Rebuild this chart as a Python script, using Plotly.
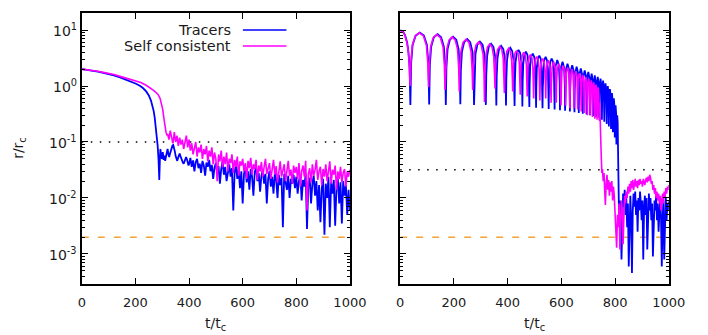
import math
import plotly.graph_objects as go

# ---------------- data ----------------
# Left panel: smooth early decay, then noisy tail (uniform 5-unit sampling)
left_tracers_early = [(0, 2.0), (20, 1.95), (40, 1.88), (60, 1.80), (80, 1.72), (100, 1.64), (120, 1.55),
    (140, 1.44), (160, 1.33), (180, 1.22), (200, 1.11), (215, 1.02), (228, 0.92), (240, 0.80), (250, 0.68),
    (258, 0.55), (264, 0.44), (268, 0.36), (272, 0.27), (276, 0.19), (280, 0.12), (283, 0.085), (286, 0.05),
    (288, 0.03), (289, 0.021), (291, 0.045), (293, 0.075), (296, 0.058), (299, 0.05), (302, 0.066),
    (305, 0.048), (308, 0.057), (311, 0.046), (314, 0.055), (317, 0.065), (320, 0.075), (323, 0.06),
    (326, 0.054), (329, 0.062), (332, 0.07), (335, 0.078), (338, 0.086), (341, 0.088), (344, 0.08),
    (347, 0.068), (350, 0.056), (353, 0.05), (356, 0.046), (359, 0.052), (362, 0.058), (365, 0.062),
    (368, 0.056), (371, 0.05), (374, 0.047), (377, 0.043), (380, 0.041), (383, 0.046), (386, 0.05),
    (389, 0.054), (392, 0.049), (395, 0.043), (398, 0.038)]
left_tracers_tail_start = 400
left_tracers_tail = [
    0.040, 0.052, 0.036, 0.047, 0.030, 0.044, 0.050, 0.034, 0.041, 0.028, 0.046, 0.038, 0.025, 0.043, 0.036, 0.048, 0.030, 0.039, 0.022, 0.035,
    0.042, 0.028, 0.037, 0.018, 0.033, 0.045, 0.026, 0.036, 0.020, 0.031, 0.040, 0.024, 0.034, 0.006, 0.029, 0.038, 0.022, 0.033, 0.015, 0.030,
    0.008, 0.027, 0.036, 0.019, 0.030, 0.014, 0.033, 0.024, 0.011, 0.029, 0.035, 0.020, 0.028, 0.013, 0.025, 0.032, 0.018, 0.027, 0.008, 0.022,
    0.030, 0.016, 0.024, 0.012, 0.028, 0.021, 0.010, 0.026, 0.017, 0.023, 0.003, 0.027, 0.019, 0.014, 0.025, 0.010, 0.022, 0.018, 0.026, 0.015,
    0.024, 0.012, 0.020, 0.026, 0.009, 0.021, 0.016, 0.027, 0.0028, 0.019, 0.023, 0.008, 0.018, 0.025, 0.011, 0.020, 0.006, 0.017, 0.0037, 0.015,
    0.022, 0.0022, 0.018, 0.010, 0.024, 0.003, 0.019, 0.012, 0.021, 0.0032, 0.016, 0.022, 0.008, 0.019, 0.0035, 0.020, 0.011, 0.017, 0.005, 0.014, 0.006]

left_self_early = [(0, 2.0), (20, 1.96), (40, 1.90), (60, 1.83), (80, 1.75), (100, 1.68), (120, 1.60),
    (140, 1.50), (160, 1.40), (180, 1.32), (200, 1.25), (220, 1.15), (240, 1.03), (255, 0.93), (265, 0.85),
    (275, 0.78), (285, 0.70), (292, 0.60), (298, 0.47), (302, 0.38), (306, 0.27), (310, 0.19), (314, 0.15),
    (318, 0.13)]
left_self_tail_start = 320
left_self_tail = [
    0.14, 0.11, 0.16, 0.12, 0.095, 0.15, 0.10, 0.13, 0.085, 0.12, 0.09, 0.11, 0.075, 0.10, 0.13, 0.08,
    0.11, 0.07, 0.095, 0.06, 0.085, 0.10, 0.055, 0.08, 0.065, 0.09, 0.05, 0.075, 0.06, 0.085, 0.045, 0.07, 0.055, 0.08, 0.04, 0.065,
    0.05, 0.02, 0.06, 0.045, 0.07, 0.035, 0.055, 0.04, 0.065, 0.03, 0.05, 0.042, 0.06, 0.028, 0.048, 0.036, 0.055, 0.025, 0.045, 0.038,
    0.05, 0.03, 0.042, 0.022, 0.046, 0.034, 0.052, 0.026, 0.04, 0.033, 0.048, 0.021, 0.038, 0.03, 0.044, 0.024, 0.036, 0.05, 0.027, 0.035,
    0.042, 0.022, 0.034, 0.048, 0.026, 0.037, 0.019, 0.033, 0.045, 0.024, 0.031, 0.04, 0.02, 0.035, 0.046, 0.025, 0.032, 0.018, 0.038, 0.028,
    0.036, 0.022, 0.042, 0.016, 0.03, 0.038, 0.024, 0.046, 0.006, 0.027, 0.034, 0.019, 0.04, 0.025, 0.032, 0.048, 0.021, 0.03, 0.036, 0.017,
    0.033, 0.024, 0.04, 0.02, 0.029, 0.045, 0.018, 0.032, 0.026, 0.038, 0.014, 0.03, 0.022, 0.036, 0.019, 0.028, 0.033, 0.016, 0.03, 0.024, 0.032]

# Right panel: orbital oscillations (t, r)
right_tracers = [(0, 9.9), (10, 9.5), (18, 8.1), (26, 6.0), (31, 4.0), (35, 2.2),
    (38, .46), (40.8, 2.52), (46.4, 5.4), (57.6, 7.92), (73, 9.0), (88.4, 7.92), (99.6, 5.4), (105.2, 2.52),
    (108, .47), (110.5, 2.35), (115.4, 5.04), (125.4, 7.39), (139, 8.4), (152.6, 7.39), (162.6, 5.04), (167.5, 2.35),
    (170, .46), (172.2, 2.13), (176.5, 4.56), (185.1, 6.69), (197, 7.6), (208.9, 6.69), (217.5, 4.56), (221.8, 2.13),
    (224, .47), (226, 1.93), (230.1, 4.14), (238.3, 6.07), (249.5, 6.9), (260.7, 6.07), (268.9, 4.14), (273, 1.93),
    (275, .46), (276.8, 1.74), (280.3, 3.72), (287.3, 5.46), (297, 6.2), (306.7, 5.46), (313.7, 3.72), (317.2, 1.74),
    (319, .46), (320.6, 1.6), (323.7, 3.42), (329.9, 5.02), (338.5, 5.7), (347.1, 5.02), (353.3, 3.42), (356.4, 1.6),
    (358, .45), (359.4, 1.46), (362.3, 3.12), (368.1, 4.58), (376, 5.2), (383.9, 4.58), (389.7, 3.12), (392.6, 1.46),
    (394, .45), (395.3, 1.34), (397.8, 2.88), (403, 4.22), (410, 4.8), (417, 4.22), (422.2, 2.88), (424.7, 1.34),
    (426, .44), (427.2, 1.23), (429.5, 2.64), (434.1, 3.87), (440.5, 4.4), (446.9, 3.87), (451.5, 2.64), (453.8, 1.23),
    (455, .43), (456, 1.15), (458.1, 2.46), (462.3, 3.61), (468, 4.1), (473.7, 3.61), (477.9, 2.46), (480, 1.15),
    (481, .42), (482, 1.06), (484, 2.28), (488, 3.34), (493.5, 3.8), (499, 3.34), (503, 2.28), (505, 1.06),
    (506, .41), (507, .98), (508.9, 2.1), (512.7, 3.08), (518, 3.5), (523.3, 3.08), (527.1, 2.1), (529, .98),
    (530, .40), (530.9, .92), (532.8, 1.98), (536.4, 2.9), (541.5, 3.3), (546.6, 2.9), (550.2, 1.98), (552.1, .92),
    (553, .39), (553.9, .87), (555.6, 1.86), (559.2, 2.73), (564, 3.1), (568.8, 2.73), (572.4, 1.86), (574.1, .87),
    (575, .38), (576.2, 1.16), (579, 2.32), (585, 2.9), (591, 2.32), (593.8, 1.16),
    (595, .37), (596.1, 1.08), (598.8, 2.16), (604.5, 2.7), (610.2, 2.16), (612.9, 1.08),
    (614, .36), (615.1, 1.0), (617.6, 2.0), (623, 2.5), (628.4, 2.0), (630.9, 1.0),
    (632, .35), (633, .94), (635.4, 1.88), (640.5, 2.35), (645.6, 1.88), (648, .94),
    (649, .34), (650, .88), (652.2, 1.76), (657, 2.2), (661.8, 1.76), (664, .88),
    (665, .33), (665.9, .82), (668, 1.64), (672.5, 2.05), (677, 1.64), (679.1, .82),
    (680, .32), (680.8, .76), (682.8, 1.52), (687, 1.9), (691.2, 1.52), (693.2, .76),
    (694, .31), (694.8, .71), (696.6, 1.42), (700.5, 1.78), (704.4, 1.42), (706.2, .71),
    (707, .30), (709.4, 1.25), (713, 1.66), (716.6, 1.25),
    (719, .29), (721.2, 1.16), (724.5, 1.55), (727.8, 1.16),
    (730, .28), (732.2, 1.09), (735.5, 1.45), (738.8, 1.09),
    (741, .27), (743, 1.01), (746, 1.35), (749, 1.01),
    (751, .25), (752.8, .94), (755.5, 1.25), (758.2, .94),
    (760, .23), (761.8, .84), (764.5, 1.12), (767.2, .84),
    (769, .21), (770.6, .75), (773, 1.0), (775.4, .75),
    (777, .19), (778.6, .66), (781, .88), (783.4, .66),
    (785, .17), (786.4, .56), (788.5, .75), (790.6, .56),
    (792, .15), (793.4, .45), (795.5, .6), (797.6, .45),
    (799, .12), (800.2, .34), (802, .45), (803.8, .34),
    (805, .09), (806.2, .23), (808, .3), (809.8, .23),
    (811, .08), (812.5, .03), (814, .006),
    (815, .004), (818, .009), (821, .005), (824, .0008), (827, .006), (830, .012), (833, .007), (836, .014),
    (839, .005), (842, .010), (845, .003), (848, .008), (851, .0006), (854, .005), (857, .011), (860, .004),
    (863, .00046), (866, .006), (869, .012), (872, .007), (875, .013), (878, .005), (881, .009), (884, .0025),
    (887, .010), (890, .006), (893, .013), (896, .008), (899, .004), (902, .009), (905, .0008), (908, .006),
    (911, .011), (914, .005), (917, .010), (920, .0012), (923, .007), (926, .012), (929, .006), (932, .010),
    (935, .004), (938, .008), (941, .0009), (944, .005), (947, .009), (950, .006), (953, .011), (956, .004),
    (959, .008), (962, .0025), (965, .007), (968, .010), (971, .005), (974, .0006), (977, .004), (980, .009),
    (983, .0008), (986, .006), (989, .010), (992, .004), (995, .008), (998, .006), (1000, .0087)]

right_self = [(0, 9.8), (10, 9.3), (18, 8.0), (25, 6.0), (30, 4.2), (34, 2.4),
    (37, 1.0), (39.8, 2.49), (45.3, 5.34), (56.3, 7.83), (71.5, 8.9), (86.7, 7.83), (97.7, 5.34), (103.2, 2.49),
    (106, .95), (108.4, 2.32), (113.3, 4.98), (123.1, 7.3), (136.5, 8.3), (149.9, 7.3), (159.7, 4.98), (164.6, 2.32),
    (167, .85), (169.1, 2.1), (173.4, 4.5), (181.8, 6.6), (193.5, 7.5), (205.2, 6.6), (213.6, 4.5), (217.9, 2.1),
    (220, .8), (222, 1.9), (226, 4.08), (234, 5.98), (245, 6.8), (256, 5.98), (264, 4.08), (268, 1.9),
    (270, .85), (271.8, 1.71), (275.3, 3.66), (282.3, 5.37), (292, 6.1), (301.7, 5.37), (308.7, 3.66), (312.2, 1.71),
    (314, .52), (315.6, 1.57), (318.7, 3.36), (324.9, 4.93), (333.5, 5.6), (342.1, 4.93), (348.3, 3.36), (351.4, 1.57),
    (353, .9), (354.4, 1.43), (357.2, 3.06), (362.8, 4.49), (370.5, 5.1), (378.2, 4.49), (383.8, 3.06), (386.6, 1.43),
    (388, .75), (389.2, 1.32), (391.7, 2.82), (396.7, 4.14), (403.5, 4.7), (410.3, 4.14), (415.3, 2.82), (417.8, 1.32),
    (419, .8), (420.1, 1.2), (422.4, 2.58), (426.8, 3.78), (433, 4.3), (439.2, 3.78), (443.6, 2.58), (445.9, 1.2),
    (447, .7), (448, 1.12), (450.1, 2.4), (454.3, 3.52), (460, 4.0), (465.7, 3.52), (469.9, 2.4), (472, 1.12),
    (473, .65), (474, 1.02), (475.9, 2.19), (479.7, 3.21), (485, 3.65), (490.3, 3.21), (494.1, 2.19), (496, 1.02),
    (497, .6), (497.9, .94), (499.8, 2.01), (503.4, 2.95), (508.5, 3.35), (513.6, 2.95), (517.2, 2.01), (519.1, .94),
    (520, .55), (520.9, .87), (522.6, 1.86), (526.2, 2.73), (531, 3.1), (535.8, 2.73), (539.4, 1.86), (541.1, .87),
    (542, .6), (543.2, 1.16), (546, 2.32), (552, 2.9), (558, 2.32), (560.8, 1.16),
    (562, .5), (563.1, 1.08), (565.8, 2.16), (571.5, 2.7), (577.2, 2.16), (579.9, 1.08),
    (581, .5), (582.1, 1.0), (584.6, 2.0), (590, 2.5), (595.4, 2.0), (597.9, 1.0),
    (599, .45), (600, .92), (602.4, 1.84), (607.5, 2.3), (612.6, 1.84), (615, .92),
    (616, .45), (617, .86), (619.2, 1.72), (624, 2.15), (628.8, 1.72), (631, .86),
    (632, .4), (632.9, .8), (635, 1.6), (639.5, 2.0), (644, 1.6), (646.1, .8),
    (647, .4), (647.8, .74), (649.8, 1.48), (654, 1.85), (658.2, 1.48), (660.2, .74),
    (661, .38), (661.8, .68), (663.6, 1.36), (667.5, 1.7), (671.4, 1.36), (673.2, .68),
    (674, .35), (676.4, 1.19), (680, 1.58), (683.6, 1.19),
    (686, .33), (688.2, 1.1), (691.5, 1.46), (694.8, 1.1),
    (697, .3), (699, 1.02), (702, 1.36), (705, 1.02),
    (707, .3), (708.8, .95), (711.5, 1.26), (714.2, .95),
    (716, .28), (717.8, .87), (720.5, 1.16), (723.2, .87),
    (725, .26), (726.6, .8), (729, 1.06), (731.4, .8),
    (733, .25), (734.6, .71), (737, .95), (739.4, .71),
    (741, .24), (743, .5), (745, .3), (747, .1), (749, .05), (751, .028),
    (753, .033), (756, .02), (759, .028), (762, .012), (764, .0075), (767, .018), (770, .026), (773, .014),
    (776, .021), (779, .011), (782, .019), (785, .013), (788, .02), (791, .009), (794, .016), (797, .011),
    (800, .006), (803, .004), (806, .0013), (809, .005), (812, .003), (815, .008), (818, .0012), (821, .004),
    (824, .009), (827, .006), (830, .0015), (833, .005), (836, .011), (839, .008), (842, .013), (845, .01),
    (848, .016), (851, .012), (854, .018), (857, .013), (860, .02), (863, .015), (866, .021), (869, .014),
    (872, .019), (875, .022), (878, .016), (881, .02), (884, .015), (887, .021), (890, .017), (893, .022),
    (896, .018), (899, .02), (902, .016), (905, .022), (908, .019), (911, .017), (914, .021), (917, .023),
    (920, .019), (923, .024), (926, .02), (929, .026), (932, .023), (935, .018), (938, .02), (941, .014),
    (944, .017), (947, .012), (950, .015), (953, .01), (956, .013), (959, .009), (962, .012), (965, .008),
    (968, .011), (971, .006), (974, .009), (977, .012), (980, .008), (983, .013), (986, .01), (989, .015),
    (992, .012), (995, .016), (998, .014), (1000, .017)]

left_dotted_level = 0.1
right_dotted_level = 0.032
dashed_level = 0.002

x_ticks = [0, 200, 400, 600, 800, 1000]
y_tick_vals = [1e-3, 1e-2, 1e-1, 1e0, 1e1]
y_tick_text = ["10<sup>-3</sup>", "10<sup>-2</sup>", "10<sup>-1</sup>", "10<sup>0</sup>", "10<sup>1</sup>"]
series_names = ["Tracers", "Self consistent"]
colors = ["#0000ff", "#ff00ff"]

# ---------------- build ----------------
def unzip(pairs):
    return [p[0] for p in pairs], [p[1] for p in pairs]

lt_t, lt_r = unzip(left_tracers_early)
lt_t += [left_tracers_tail_start + 5 * i for i in range(len(left_tracers_tail))]
lt_r += left_tracers_tail
ls_t, ls_r = unzip(left_self_early)
ls_t += [left_self_tail_start + 5 * i for i in range(len(left_self_tail))]
ls_r += left_self_tail
rt_t, rt_r = unzip(right_tracers)
rs_t, rs_r = unzip(right_self)

FONT = "DejaVu Sans"
TXT = "#1a1a1a"
W, H = 708, 335
K = 0.979  # horizontal squeeze observed in the screenshot


def px(x):
    """target picture x-pixel -> paper fraction"""
    return x / K / W


def py(y):
    return 1 - y / H


fig = go.Figure()

# reference levels
for xa, ya, lvl in [("x", "y", left_dotted_level), ("x2", "y2", right_dotted_level)]:
    fig.add_trace(go.Scatter(x=[0, 1000], y=[lvl, lvl], mode="lines", xaxis=xa, yaxis=ya,
                             line=dict(color="black", width=1.5, dash="1.5px,7.5px"), showlegend=False, hoverinfo="skip"))
    fig.add_trace(go.Scatter(x=[0, 1000], y=[dashed_level, dashed_level], mode="lines", xaxis=xa, yaxis=ya,
                             line=dict(color="#f2a43a", width=1.5, dash="7px,9px"), showlegend=False, hoverinfo="skip"))

fig.add_trace(go.Scatter(x=lt_t, y=lt_r, mode="lines", line=dict(color=colors[0], width=1.8), xaxis="x", yaxis="y", showlegend=False))
fig.add_trace(go.Scatter(x=ls_t, y=ls_r, mode="lines", line=dict(color=colors[1], width=1.6), xaxis="x", yaxis="y", showlegend=False))
fig.add_trace(go.Scatter(x=rt_t, y=rt_r, mode="lines", line=dict(color=colors[0], width=1.8), xaxis="x2", yaxis="y2", showlegend=False))
fig.add_trace(go.Scatter(x=rs_t, y=rs_r, mode="lines", line=dict(color=colors[1], width=1.6), xaxis="x2", yaxis="y2", showlegend=False))

ydom = [py(284), py(12.7)]
yrange = [-3.536, 1.309]
minor_vals = [m * 10 ** e for e in range(-4, 2) for m in range(2, 10)]

xcommon = dict(range=[0, 1000], tickvals=x_ticks, ticks="inside", ticklen=6, tickwidth=1.2, tickcolor="black",
               showline=True, linecolor="black", linewidth=1.6, mirror="allticks", showgrid=False, zeroline=False,
               tickfont=dict(family=FONT, size=13, color=TXT), ticklabelstandoff=6)
ycommon = dict(type="log", range=yrange, domain=ydom, tickvals=y_tick_vals,
               ticks="inside", ticklen=6, tickwidth=1.2, tickcolor="black",
               minor=dict(tickvals=minor_vals, ticks="inside", ticklen=3, tickcolor="black", tickwidth=1, showgrid=False),
               showline=True, linecolor="black", linewidth=1.6, mirror="allticks", showgrid=False, zeroline=False,
               showticklabels=False)

fig.update_layout(
    width=W, height=H, margin=dict(l=0, r=0, t=0, b=0), autosize=False,
    paper_bgcolor="white", plot_bgcolor="white", showlegend=False,
    font=dict(family=FONT, size=13, color=TXT),
    xaxis=dict(domain=[px(78.5), px(349)], anchor="y", **xcommon),
    xaxis2=dict(domain=[px(399.7), px(670.7)], anchor="y2", **xcommon),
    yaxis=dict(anchor="x", **ycommon),
    yaxis2=dict(anchor="x2", **ycommon),
)

# y tick labels (placed close to the axis, gnuplot style)
for val, txt in zip(y_tick_vals, y_tick_text):
    fig.add_annotation(text=txt, xref="paper", yref="y", x=px(76), y=math.log10(val), xanchor="right",
                       yanchor="middle", showarrow=False, font=dict(family=FONT, size=14, color=TXT))

# axis titles
for xc in [(78.5 + 349) / 2, (399.7 + 670.7) / 2]:
    fig.add_annotation(text="t/t<sub>c</sub>", xref="paper", yref="paper", x=px(xc), y=py(324), showarrow=False,
                       xanchor="center", yanchor="middle", font=dict(family=FONT, size=14, color=TXT))
fig.add_annotation(text="r/r<sub>c</sub>", xref="paper", yref="paper", x=px(15), y=py(148), textangle=-90,
                   showarrow=False, xanchor="center", yanchor="middle", font=dict(family=FONT, size=14, color=TXT))

# legend (gnuplot style: text right-aligned, sample to the right)
for i, (name, col) in enumerate(zip(series_names, colors)):
    yy = py(30 + 16 * i)
    fig.add_annotation(text=name, xref="paper", yref="paper", x=px(231), y=yy, xanchor="right", yanchor="middle",
                       showarrow=False, font=dict(family=FONT, size=14.5, color=TXT))
    fig.add_shape(type="line", xref="paper", yref="paper", x0=px(241), x1=px(285), y0=yy, y1=yy,
                  line=dict(color=col, width=1.6))

fig.write_html("out.html")
